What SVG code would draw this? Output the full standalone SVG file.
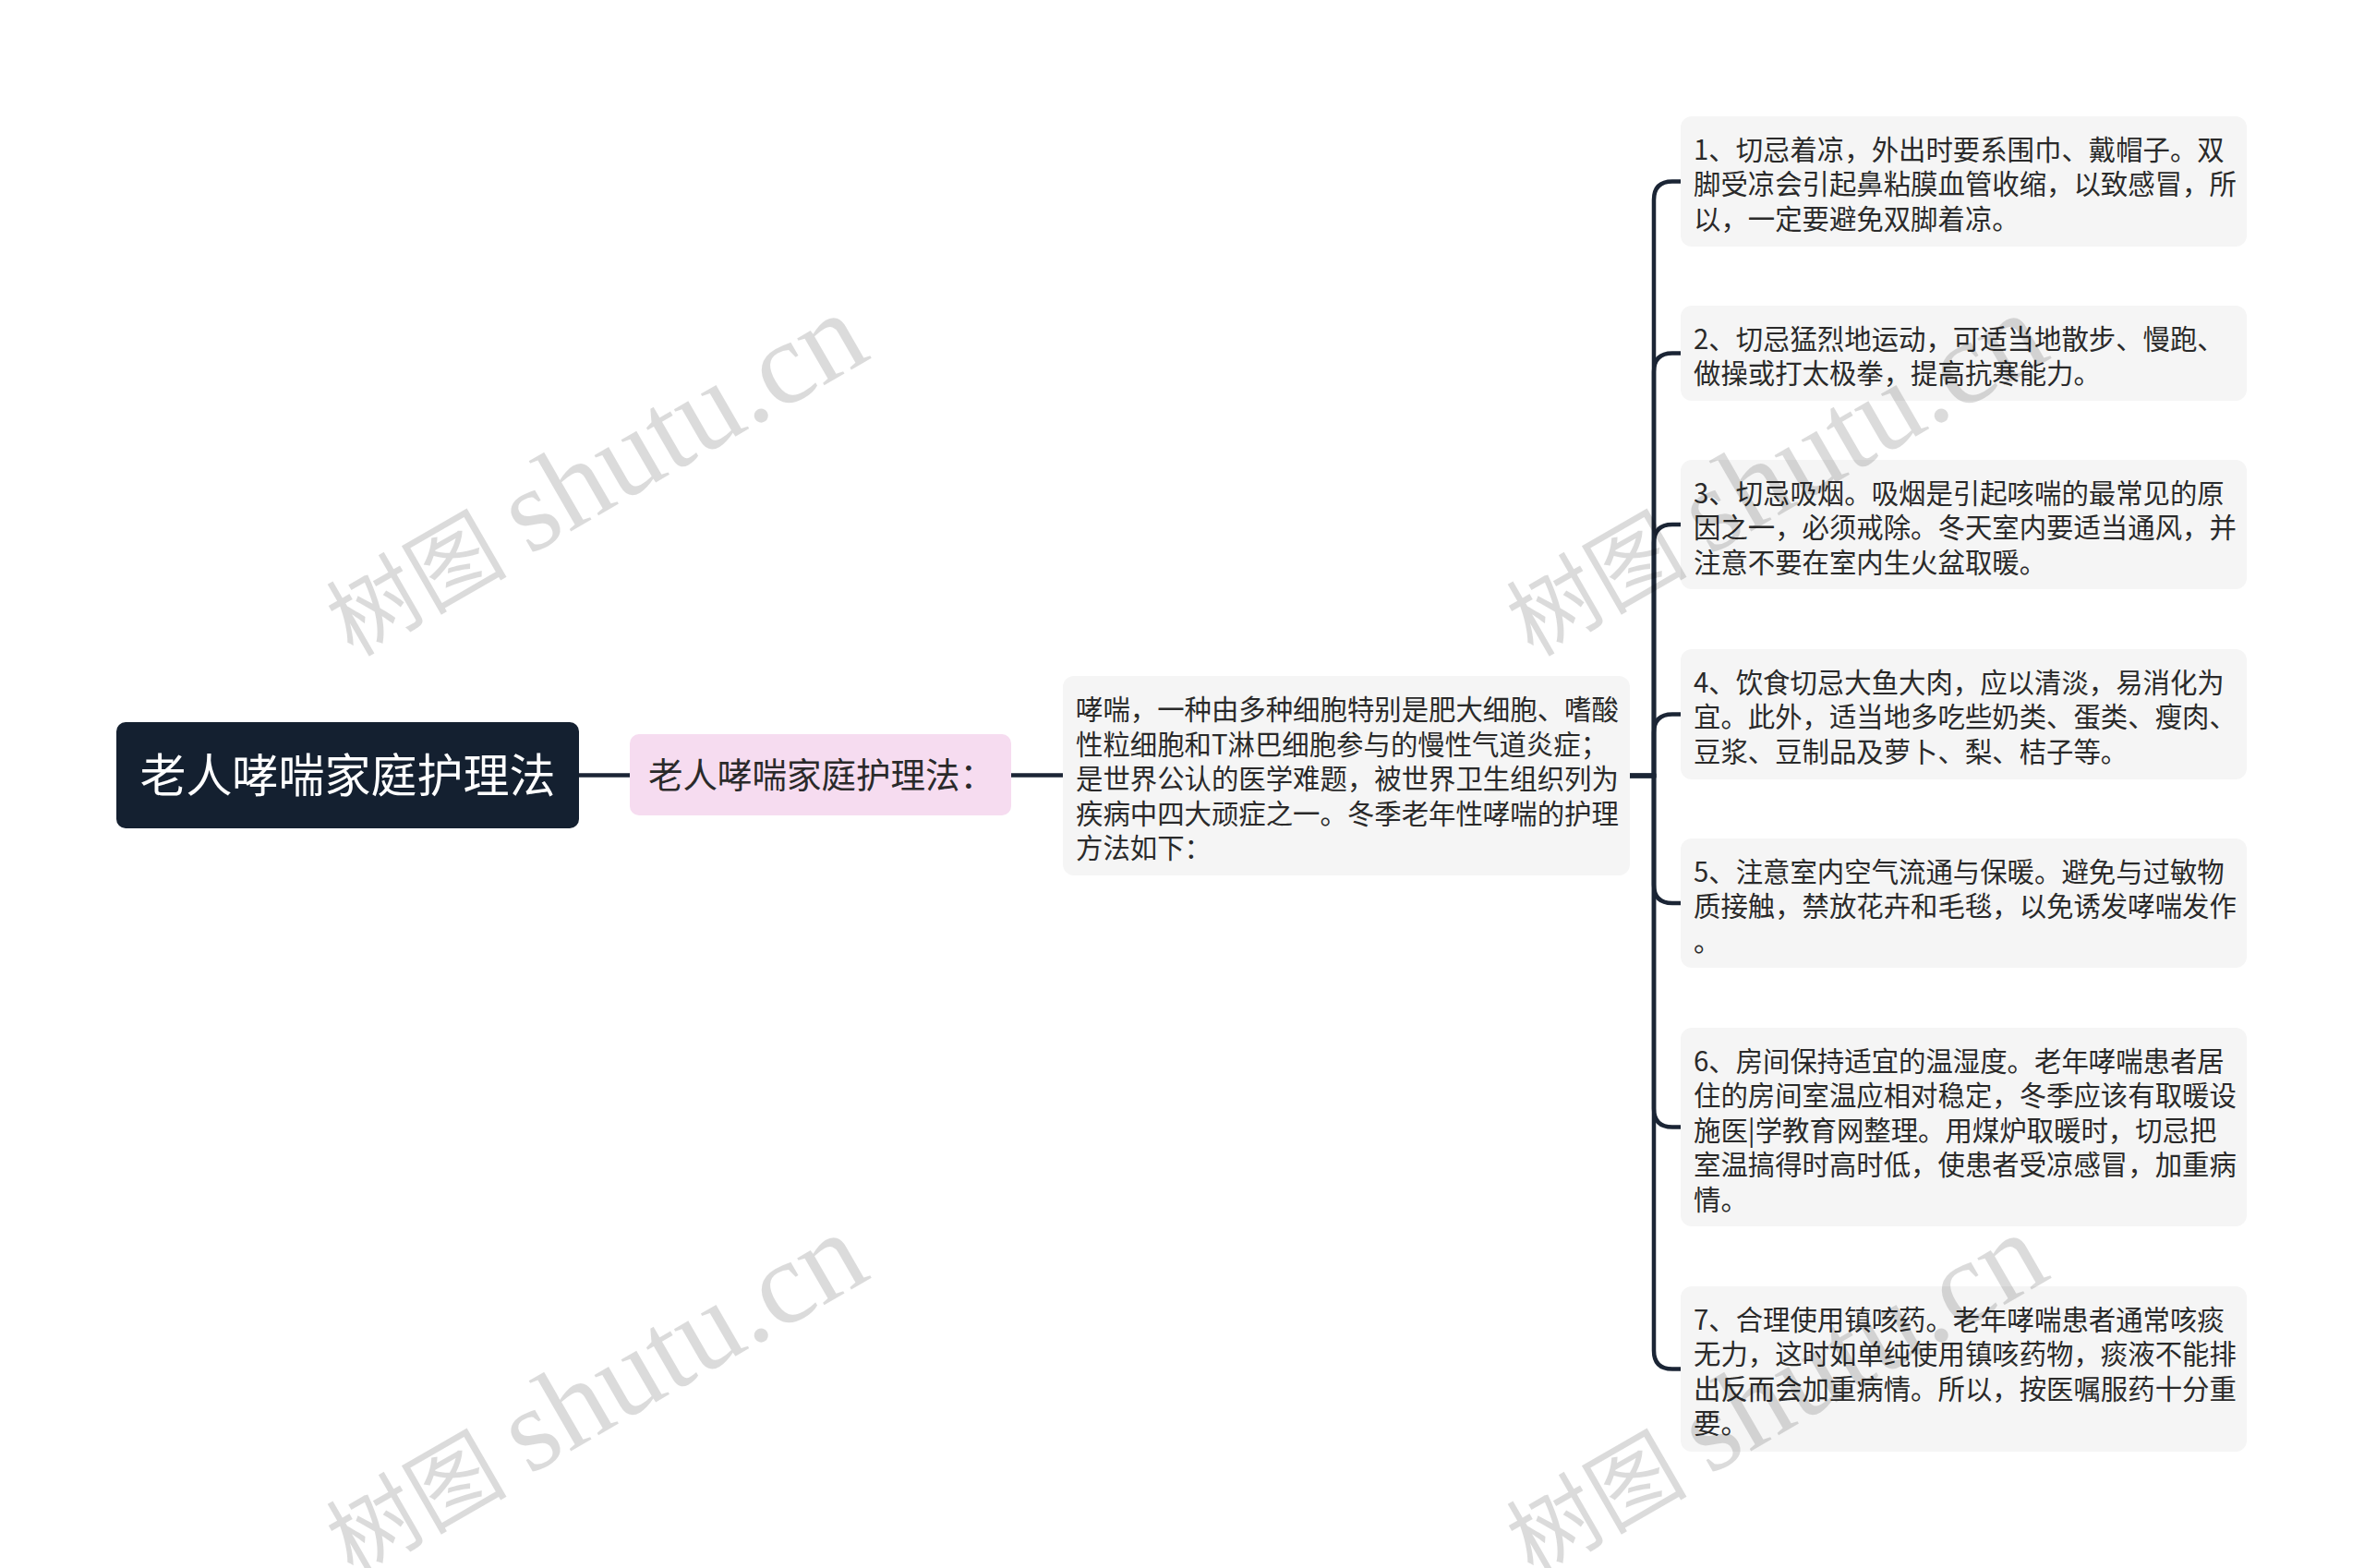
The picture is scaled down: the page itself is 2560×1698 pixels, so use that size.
<svg xmlns="http://www.w3.org/2000/svg" width="2560" height="1698" viewBox="0 0 2560 1698">
<style>
.box{fill:#f5f5f5}
.t{font-family:"Noto Sans CJK SC","Noto Sans",sans-serif;font-size:29.4px;fill:#2a2a2a}
.conn{fill:none;stroke:#1b2535;stroke-width:4.5;stroke-linecap:round}
.wm{font-family:"Liberation Serif","Noto Sans CJK SC",serif;font-size:128px;fill:#000;fill-opacity:0.14}
.wc{font-size:98px}
</style>
<rect width="2560" height="1698" fill="#ffffff"/>
<g id="connectors">
<path class="conn" d="M627 839.5 H682"/>
<path class="conn" d="M1095 839.5 H1151"/>
<path class="conn" d="M1765 840 H1791 V216.5 Q1791 196.5 1811 196.5 H1820"/>
<path class="conn" d="M1765 840 H1791 V402.5 Q1791 382.5 1811 382.5 H1820"/>
<path class="conn" d="M1765 840 H1791 V588 Q1791 568 1811 568 H1820"/>
<path class="conn" d="M1765 840 H1791 V793.5 Q1791 773.5 1811 773.5 H1820"/>
<path class="conn" d="M1765 840 H1791 V958 Q1791 978 1811 978 H1820"/>
<path class="conn" d="M1765 840 H1791 V1200.5 Q1791 1220.5 1811 1220.5 H1820"/>
<path class="conn" d="M1765 840 H1791 V1462.5 Q1791 1482.5 1811 1482.5 H1820"/>
</g>
<g id="root">
<rect x="126" y="782" width="501" height="115" rx="10" fill="#142030"/>
<text x="376.5" y="857.5" text-anchor="middle" font-family="Noto Sans CJK SC, sans-serif" font-size="50" fill="#ffffff">老人哮喘家庭护理法</text>
</g>
<g id="sub">
<rect x="682" y="795" width="413" height="88" rx="10" fill="#f6dcf0"/>
<text x="702" y="852.5" font-family="Noto Sans CJK SC, sans-serif" font-size="37.5" fill="#2a2a2a">老人哮喘家庭护理法：</text>
</g>
<g id="desc">
<rect class="box" x="1151" y="732" width="614" height="216" rx="12"/>
<text class="t">
<tspan x="1165" y="779">哮喘，一种由多种细胞特别是肥大细胞、嗜酸</tspan>
<tspan x="1165" y="816.5">性粒细胞和T淋巴细胞参与的慢性气道炎症；</tspan>
<tspan x="1165" y="854">是世界公认的医学难题，被世界卫生组织列为</tspan>
<tspan x="1165" y="891.5">疾病中四大顽症之一。冬季老年性哮喘的护理</tspan>
<tspan x="1165" y="929">方法如下：</tspan>
</text>
</g>
<g id="item1">
<rect class="box" x="1820" y="126" width="613" height="141" rx="12"/>
<text class="t">
<tspan x="1834" y="172.5">1、切忌着凉，外出时要系围巾、戴帽子。双</tspan>
<tspan x="1834" y="210">脚受凉会引起鼻粘膜血管收缩，以致感冒，所</tspan>
<tspan x="1834" y="247.5">以，一定要避免双脚着凉。</tspan>
</text>
</g>
<g id="item2">
<rect class="box" x="1820" y="331" width="613" height="103" rx="12"/>
<text class="t">
<tspan x="1834" y="377.5">2、切忌猛烈地运动，可适当地散步、慢跑、</tspan>
<tspan x="1834" y="415">做操或打太极拳，提高抗寒能力。</tspan>
</text>
</g>
<g id="item3">
<rect class="box" x="1820" y="498" width="613" height="140" rx="12"/>
<text class="t">
<tspan x="1834" y="544.5">3、切忌吸烟。吸烟是引起咳喘的最常见的原</tspan>
<tspan x="1834" y="582">因之一，必须戒除。冬天室内要适当通风，并</tspan>
<tspan x="1834" y="619.5">注意不要在室内生火盆取暖。</tspan>
</text>
</g>
<g id="item4">
<rect class="box" x="1820" y="703" width="613" height="141" rx="12"/>
<text class="t">
<tspan x="1834" y="749.5">4、饮食切忌大鱼大肉，应以清淡，易消化为</tspan>
<tspan x="1834" y="787">宜。此外，适当地多吃些奶类、蛋类、瘦肉、</tspan>
<tspan x="1834" y="824.5">豆浆、豆制品及萝卜、梨、桔子等。</tspan>
</text>
</g>
<g id="item5">
<rect class="box" x="1820" y="908" width="613" height="140" rx="12"/>
<text class="t">
<tspan x="1834" y="954.5">5、注意室内空气流通与保暖。避免与过敏物</tspan>
<tspan x="1834" y="992">质接触，禁放花卉和毛毯，以免诱发哮喘发作</tspan>
<tspan x="1834" y="1029.5">。</tspan>
</text>
</g>
<g id="item6">
<rect class="box" x="1820" y="1113" width="613" height="215" rx="12"/>
<text class="t">
<tspan x="1834" y="1159.5">6、房间保持适宜的温湿度。老年哮喘患者居</tspan>
<tspan x="1834" y="1197">住的房间室温应相对稳定，冬季应该有取暖设</tspan>
<tspan x="1834" y="1234.5">施医|学教育网整理。用煤炉取暖时，切忌把</tspan>
<tspan x="1834" y="1272">室温搞得时高时低，使患者受凉感冒，加重病</tspan>
<tspan x="1834" y="1309.5">情。</tspan>
</text>
</g>
<g id="item7">
<rect class="box" x="1820" y="1393" width="613" height="179" rx="12"/>
<text class="t">
<tspan x="1834" y="1439.5">7、合理使用镇咳药。老年哮喘患者通常咳痰</tspan>
<tspan x="1834" y="1477">无力，这时如单纯使用镇咳药物，痰液不能排</tspan>
<tspan x="1834" y="1514.5">出反而会加重病情。所以，按医嘱服药十分重</tspan>
<tspan x="1834" y="1552">要。</tspan>
</text>
</g>
<g id="watermarks">
<text class="wm" transform="translate(382 712) rotate(-30)"><tspan class="wc">树图 </tspan>shutu.cn</text>
<text class="wm" transform="translate(382 1708) rotate(-30)"><tspan class="wc">树图 </tspan>shutu.cn</text>
<text class="wm" transform="translate(1660 712) rotate(-30)"><tspan class="wc">树图 </tspan>shutu.cn</text>
<text class="wm" transform="translate(1660 1708) rotate(-30)"><tspan class="wc">树图 </tspan>shutu.cn</text>
</g>
</svg>
